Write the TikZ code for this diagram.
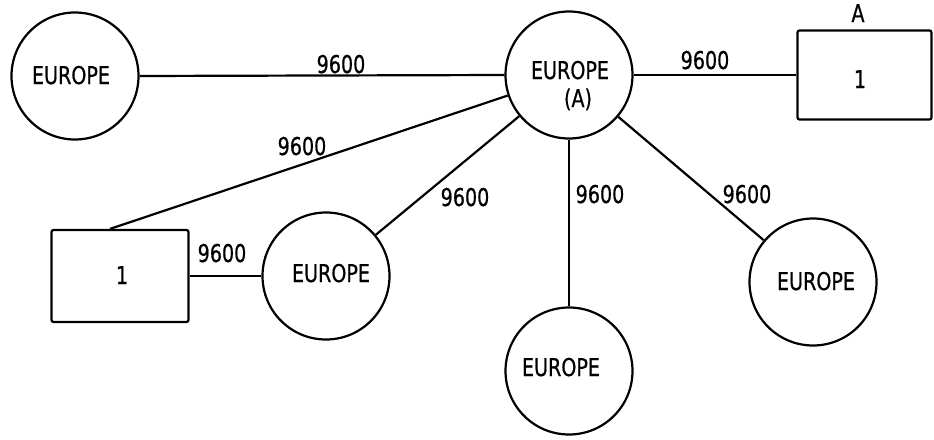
\documentclass[tikz,border=0pt]{standalone}
\usepackage{fontspec}
\setmainfont[FakeStretch=0.78,FakeBold=0.6]{DejaVu Sans}
\begin{document}
\begin{tikzpicture}[x=1pt,y=-1pt,
  every node/.style={font=\fontsize{24.5}{28}\selectfont},
  site/.style={draw,circle,line width=2.2pt,minimum size=127pt,inner sep=0pt},
  term/.style={draw,rectangle,line width=2.2pt,rounded corners=2pt,inner sep=0pt},
  txt/.style={anchor=base,inner sep=0pt},
  link/.style={line width=2.2pt}]
\useasboundingbox (0,0) rectangle (934,439);
% circles
\node[site] (e1) at (75,76) {};
\node[site] (ea) at (569,75) {};
\node[site] (e2) at (326,276) {};
\node[site] (e3) at (569,371) {};
\node[site] (e4) at (813,282) {};
% rectangles
\node[term,minimum width=134pt,minimum height=89pt] (ra) at (864.5,75) {};
\node[term,minimum width=137pt,minimum height=92pt] (rl) at (120,276) {};
\coordinate (pl) at ([xshift=-10pt]rl.north);
% texts
\node[txt] (t1) at (71,84) {EUROPE};
\node[txt] (ta1) at (570,79) {EUROPE};
\node[txt] (ta2) at (578,107) {(A)};
\node[txt] (t2) at (331,282) {EUROPE};
\node[txt] (t3) at (561,376) {EUROPE};
\node[txt] (t4) at (816,290) {EUROPE};
\node[txt] (tra) at (860,88) {1};
\node[txt] (tA) at (858,22) {A};
\node[txt] (trl) at (122,284) {1};
% connectors
\draw[link] (e1.east) -- (ea.west);
\draw[link] (ea.east) -- (ra.west);
\draw[link] (ea) -- (pl);
\draw[link] (ea) -- (e2);
\draw[link] (ea) -- (e3);
\draw[link] (ea) -- (e4);
\draw[link] (rl.east) -- (e2.west);
% speed labels
\node[txt] (l1) at (341,73) {9600};
\node[txt] (l2) at (302,155) {9600};
\node[txt] (l3) at (465,206) {9600};
\node[txt] (l4) at (600,203) {9600};
\node[txt] (l5) at (747,203) {9600};
\node[txt] (l6) at (705,69) {9600};
\node[txt] (l7) at (222,262) {9600};
\end{tikzpicture}
\end{document}
